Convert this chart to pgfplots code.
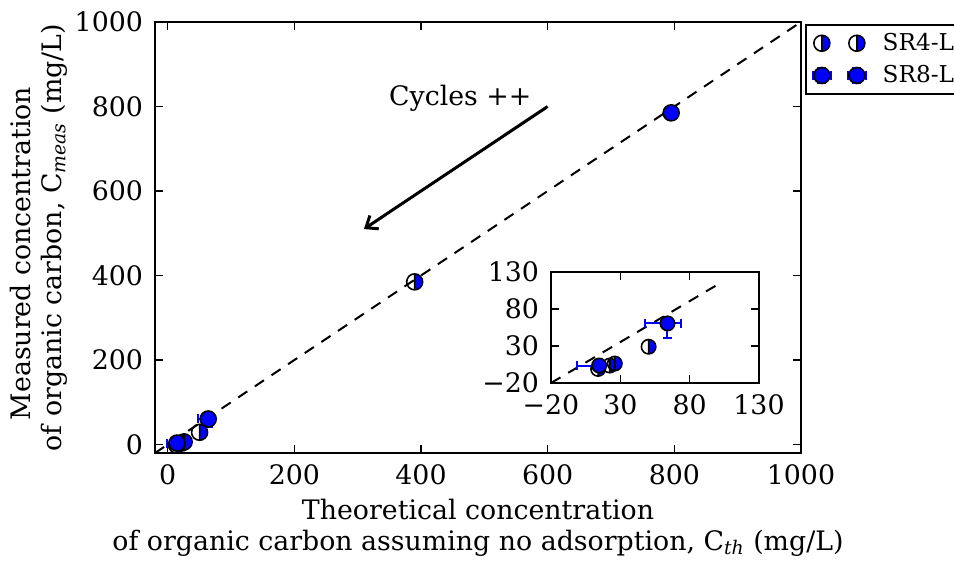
\documentclass[border=0pt]{standalone}
\usepackage{fontspec}
\setmainfont{DejaVu Serif}
\usepackage{pgfplots}
\pgfplotsset{compat=1.18}
\usetikzlibrary{arrows.meta}

% half-filled circle: right half blue, left half open
\pgfdeclareplotmark{halfR}{%
  \pgfpathmoveto{\pgfqpoint{0pt}{\pgfplotmarksize}}%
  \pgfpatharc{90}{-90}{\pgfplotmarksize}%
  \pgfpathclose
  \pgfsetfillcolor{blue}%
  \pgfusepath{fill}%
  \pgfpathcircle{\pgfpointorigin}{\pgfplotmarksize}%
  \pgfpathmoveto{\pgfqpoint{0pt}{\pgfplotmarksize}}%
  \pgfpathlineto{\pgfqpoint{0pt}{-\pgfplotmarksize}}%
  \pgfusepath{stroke}%
}

\pgfplotsset{
  mystyle/.style={
    scale only axis,
    tick align=inside,
    major tick length=4pt,
    axis line style={line width=1pt},
    every tick/.style={black, line width=0.6pt},
    /pgf/number format/assume math mode=true,
    /pgf/number format/1000 sep={},
    yticklabel style={xshift=-2.5pt},
    xticklabel style={yshift=-2.5pt},
  },
  sr4/.style={only marks, mark=halfR, draw=black, line width=0.8pt},
  sr8/.style={only marks, mark=*, draw=black, fill=blue, line width=0.8pt,
    error bars/x dir=both, error bars/x explicit,
    error bars/y dir=both, error bars/y explicit,
    error bars/error mark=|,
    error bars/error bar style={blue, line width=1pt},
    error bars/error mark options={blue, mark size=2.25pt, line width=1pt}},
  diag/.style={black, line width=1pt, dash pattern=on 5.5pt off 4.5pt},
  leg4/.style={legend image code/.code={%
    \path (-4pt,0pt) (28pt,0pt);
    \draw[##1, only marks] plot coordinates {(0pt,0pt) (17.5pt,0pt)};}},
  leg8/.style={legend image code/.code={%
    \path (-4pt,0pt) (28pt,0pt);
    \foreach \xx in {0pt,17.5pt}{
      \draw[blue, line width=1pt] ([xshift=-4.5pt]\xx,0pt) -- ([xshift=4.5pt]\xx,0pt);
      \draw[blue, line width=1pt] (\xx,-3.7pt) -- (\xx,3.7pt);
      \draw[blue, line width=1pt] ([xshift=-4.5pt]\xx,-2.2pt) -- ([xshift=-4.5pt]\xx,2.2pt);
      \draw[blue, line width=1pt] ([xshift=4.5pt]\xx,-2.2pt) -- ([xshift=4.5pt]\xx,2.2pt);
      \draw[blue, line width=1pt] ([xshift=-2.2pt]\xx,3.7pt) -- ([xshift=2.2pt]\xx,3.7pt);
      \draw[blue, line width=1pt] ([xshift=-2.2pt]\xx,-3.7pt) -- ([xshift=2.2pt]\xx,-3.7pt);
    }
    \draw[##1, only marks] plot coordinates {(0pt,0pt) (17.5pt,0pt)};}},
}

\begin{document}
\begin{tikzpicture}[font=\fontsize{13.4}{15.5}\selectfont]
\path[use as bounding box] (-77.5pt,-54pt) rectangle (399.5pt,226.5pt);
\begin{axis}[mystyle,
  at={(0pt,0pt)}, anchor=south west,
  width=323pt, height=215.5pt,
  xmin=-20, xmax=1000, ymin=-20, ymax=1000,
  xtick={0,200,...,1000}, ytick={0,200,...,1000},
  xlabel={Theoretical concentration\\of organic carbon assuming no adsorption, C\textsubscript{\textit{th}} (mg/L)},
  ylabel={Measured concentration\hspace*{16pt}\\of organic carbon, C\textsubscript{\textit{meas}} (mg/L)},
  xlabel style={align=center},
  ylabel style={align=center},
  ylabel shift=-3pt,
  legend style={at={(1.006,0.995)}, anchor=north west, draw=black, line width=1pt,
    fill=white, font=\fontsize{11.6}{14}\selectfont, row sep=2pt},
  legend cell align=left,
]
\addplot[diag, forget plot] coordinates {(-20,-20) (1000,1000)};

\addplot[sr4, mark size=4pt, leg4]
  coordinates {(14,-1) (390,385) (50.4,29) (22.4,3.6) (26,6.3)};
\addlegendentry{SR4-L}

\addplot[sr8, mark size=4pt, leg8]
  coordinates {
    (795,785) +- (0,0)
    (64,60.5) += (9.5,3) -= (16,20)
    (14.7,3.6) += (3,0) -= (16,0)
  };
\addlegendentry{SR8-L}

\draw[line width=1.5pt, -{Straight Barb[length=5pt, width=8pt]}] (axis cs:600,800) -- (axis cs:310,510);
\node at (axis cs:462,819) {Cycles ++};
\end{axis}

% inset
\begin{axis}[mystyle,
  at={(198pt,35pt)}, anchor=south west,
  width=104pt, height=55.5pt,
  xmin=-20, xmax=130, ymin=-20, ymax=130,
  xtick={-20,30,80,130}, ytick={-20,30,80,130},
  xticklabels={−20,30,80,130}, yticklabels={−20,30,80,130},
  axis background/.style={fill=white},
]
\addplot[diag] coordinates {(-20,-20) (102,115)};
\addplot[sr4, mark size=3.6pt] coordinates {(14,-1) (50.4,29) (22.4,3.6) (26,6.3)};
\addplot[sr8, mark size=3.6pt] coordinates {
    (64,60.5) += (9.5,3) -= (16,20)
    (14.7,3.6) += (3,0) -= (16,0)
  };
\end{axis}
\end{tikzpicture}
\end{document}
